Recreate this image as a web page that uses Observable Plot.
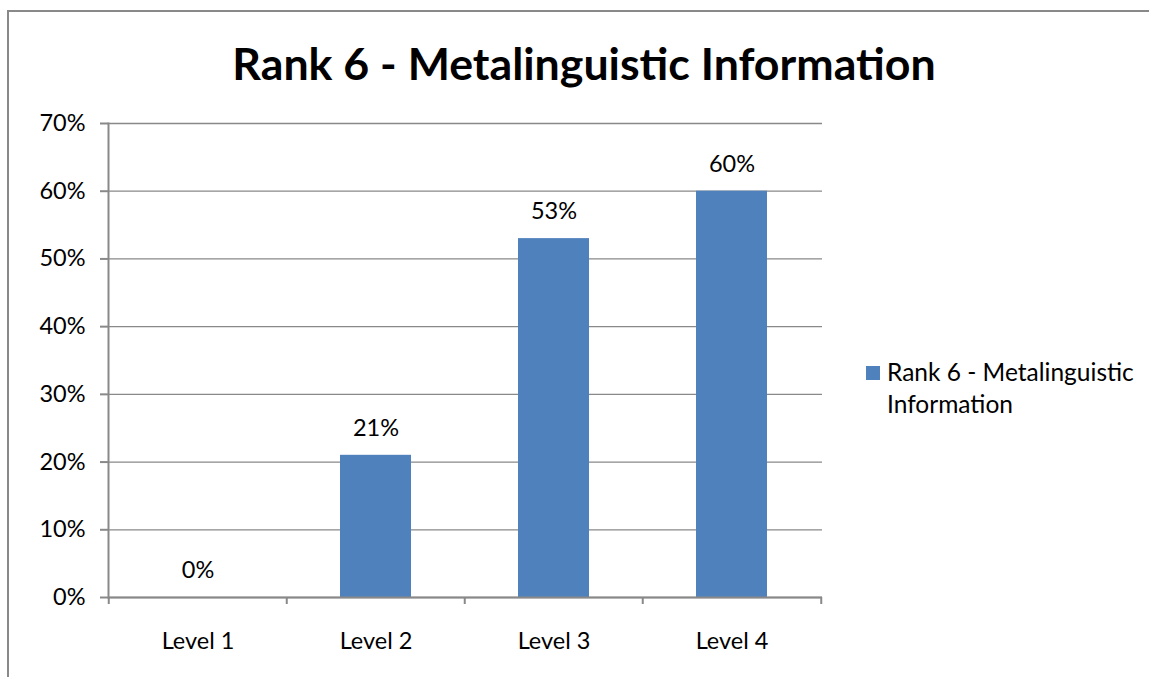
<!DOCTYPE html>
<html>
<head>
<meta charset="utf-8">
<script src="https://cdn.jsdelivr.net/npm/d3@7"></script>
<script src="https://cdn.jsdelivr.net/npm/@observablehq/plot@0.6"></script>
<style>
  html, body { margin: 0; padding: 0; background: #fff; }
  #wrap { position: relative; width: 1149px; height: 677px; overflow: hidden; font-family: Lato, "Open Sans", sans-serif; }
  #border { position: absolute; left: 7px; top: 10px; width: 1200px; height: 700px; border-left: 2px solid #898989; border-top: 2px solid #898989; }
  #chart { position: absolute; left: 0; top: 0; }
  #title { position: absolute; left: 0; width: 1168px; top: 37px; text-align: center; font-weight: bold; font-size: 44.7px; line-height: 52px; color: #000; }
  #legend { position: absolute; left: 866px; top: 356px; }
  #legend .sw { position: absolute; left: 0; top: 10px; width: 14px; height: 14px; background: #4F81BD; }
  #legend .tx { position: absolute; left: 21px; top: 0; font-size: 24.5px; line-height: 32px; white-space: nowrap; color: #000; }
</style>
</head>
<body>
<div id="wrap">
  <div id="border"></div>
  <div id="chart"></div>
  <div id="title">Rank 6 - Metalinguistic Information</div>
  <div id="legend"><div class="sw"></div><div class="tx">Rank 6 - Metalinguistic<br>Information</div></div>
</div>
<script>
const levels = ["Level 1", "Level 2", "Level 3", "Level 4"];
const values = [0, 0.21, 0.53, 0.60];
const yTicks = [0, 0.1, 0.2, 0.3, 0.4, 0.5, 0.6, 0.7];
const seriesName = "Rank 6 - Metalinguistic Information";

const data = levels.map((level, i) => ({level, value: values[i]}));
const gray = "#898989";
const fmt = d3.format(".0%");

const chart = Plot.plot({
  width: 1149,
  height: 677,
  marginLeft: 108,
  marginRight: 327,
  marginTop: 123,
  marginBottom: 80,
  style: {fontFamily: "Lato, 'Open Sans', sans-serif", background: "transparent", color: "#000"},
  x: {type: "band", domain: levels, paddingInner: 0.6, paddingOuter: 0.3},
  y: {domain: [0, 0.7]},
  marks: [
    Plot.gridY(yTicks, {stroke: gray, strokeOpacity: 1, strokeWidth: 1.3}),
    Plot.barY(data, {x: "level", y: "value", fill: "#4F81BD"}),
    Plot.ruleY([0], {stroke: gray, strokeWidth: 2}),
    Plot.frame({anchor: "left", stroke: gray, strokeWidth: 2}),
    Plot.ruleX(levels, {x: d => d, y1: 0, y2: 0, dx: -89.25, insetBottom: -7, stroke: gray, strokeWidth: 2}),
    Plot.ruleX([levels[levels.length - 1]], {x: d => d, y1: 0, y2: 0, dx: 89.25, insetBottom: -7, stroke: gray, strokeWidth: 2}),
    Plot.axisY({ticks: yTicks, tickFormat: fmt, tickSize: 8, tickPadding: 15, fontSize: 23.5, stroke: gray, strokeWidth: 2, fill: "#000", label: null}),
    Plot.axisX({tickSize: 0, tickPadding: 35, fontSize: 23.5, fill: "#000", label: null}),
    Plot.text(data, {x: "level", y: "value", text: d => fmt(d.value), dy: -27, fontSize: 23.5, fill: "#000"})
  ]
});
document.getElementById("chart").appendChild(chart);
</script>
</body>
</html>
